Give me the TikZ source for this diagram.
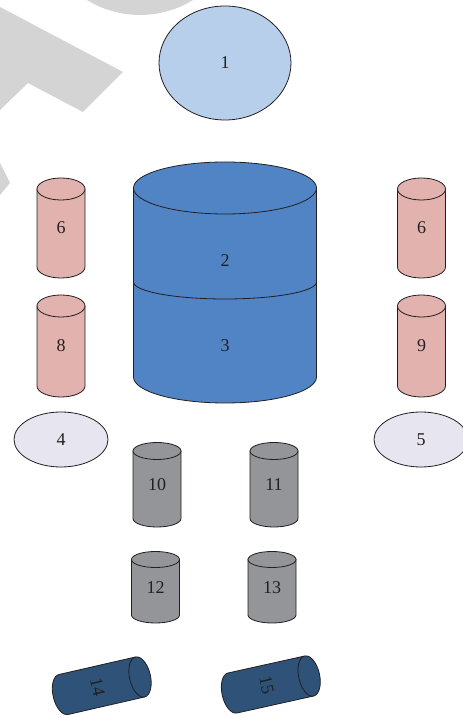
\documentclass[tikz,border=0pt]{standalone}
\usepackage{fontspec}
\setmainfont{Liberation Serif}
\usetikzlibrary{shapes.geometric}
\definecolor{edge}{HTML}{231F20}
\definecolor{wmgrey}{HTML}{D4D4D4}
\definecolor{skyfill}{HTML}{B8CFEB}
\definecolor{drumfill}{HTML}{5084C4}
\definecolor{pinkfill}{HTML}{E2B3AE}
\definecolor{lilacfill}{HTML}{E7E5F0}
\definecolor{greyfill}{HTML}{939598}
\definecolor{navyfill}{HTML}{2F5378}
\tikzset{
  outline/.style={draw=edge, line width=0.8pt},
  lbl/.style={text=edge, inner sep=0pt, font=\fontsize{18}{21}\selectfont},
}
% upright cylinder: name, centre x, top y, bottom y, x radius, y radius, fill, label
\newcommand\upcyl[8]{%
  \filldraw[outline, fill=#7] (#2-#5,#3) -- (#2-#5,#4)
    arc[start angle=180, end angle=360, x radius=#5, y radius=#6] -- (#2+#5,#3) -- cycle;
  \filldraw[outline, fill=#7] (#2,#3) ellipse[x radius=#5, y radius=#6];
  \node[lbl] (#1) at (#2,{(#3+#4)/2}) {#8};
}
% cylinder lying on its side: name, left cap centre, tilt, label
\newcommand\sidecyl[4]{%
  \begin{scope}[shift={#2}, rotate=#3]
    \filldraw[outline, fill=navyfill] (78.5,20.5) -- (0,20.5)
      arc[start angle=90, end angle=270, x radius=10.5, y radius=20.5] -- (78.5,-20.5);
    \filldraw[outline, fill=navyfill] (78.5,0) ellipse[x radius=10.5, y radius=20.5];
    \coordinate (#1-c) at (35,0);
  \end{scope}
  \node[lbl, rotate=#3-90] (#1) at (#1-c) {#4};
}
\begin{document}
\begin{tikzpicture}[x=1pt, y=1pt]
  \useasboundingbox (0,0) rectangle (463,718);
  \fill[white] (0,0) rectangle (463,718);

  % light grey background mark
  \begin{scope}
    \clip (0,0) rectangle (463,718);
    \fill[wmgrey] (140,804) circle[radius=101];
    \fill[wmgrey] (-5,713) -- (0,711) -- (123,646) -- (83,606) -- (28,635) -- (0,608) -- (-5,605) -- cycle;
    \fill[wmgrey] (-5,555) -- (0,555) -- (10,535) -- (0,523) -- (-5,523) -- cycle;
  \end{scope}

  % top ellipse
  \node[outline, fill=skyfill, ellipse, minimum width=132pt, minimum height=114pt, inner sep=0pt] (e1) at (225,655) {};
  \node[lbl] (t1) at (e1) {1};

  % large two-part drum
  \filldraw[outline, fill=drumfill] (133.5,530) -- (133.5,341)
    arc[start angle=180, end angle=360, x radius=91.5, y radius=26] -- (316.5,530) -- cycle;
  \draw[outline] (133.5,436) arc[start angle=180, end angle=360, x radius=91.5, y radius=17];
  \filldraw[outline, fill=drumfill] (225,530) ellipse[x radius=91.5, y radius=26];
  \node[lbl] (t2) at (225,457) {2};
  \node[lbl] (t3) at (225,372) {3};

  % pink cylinders
  \upcyl{c6a}{61}{529}{451}{24}{11}{pinkfill}{6}
  \upcyl{c8}{61}{412}{332}{24}{11}{pinkfill}{8}
  \upcyl{c6b}{421.5}{529}{451}{24}{11}{pinkfill}{6}
  \upcyl{c9}{421.5}{412}{332}{24}{11}{pinkfill}{9}

  % side ellipses
  \node[outline, fill=lilacfill, ellipse, minimum width=94pt, minimum height=55pt, inner sep=0pt] (e4) at (61,278.5) {};
  \node[lbl] (t4) at (e4) {4};
  \node[outline, fill=lilacfill, ellipse, minimum width=94pt, minimum height=55pt, inner sep=0pt] (e5) at (421,278.5) {};
  \node[lbl] (t5) at (e5) {5};

  % grey cylinders
  \upcyl{c10}{157}{267}{199.5}{24}{8.5}{greyfill}{10}
  \upcyl{c11}{274}{267}{199.5}{24}{8.5}{greyfill}{11}
  \upcyl{c12}{155.5}{158.5}{103}{24}{8}{greyfill}{12}
  \upcyl{c13}{272}{158.5}{103}{24}{8}{greyfill}{13}

  % tilted cylinders
  \sidecyl{c14}{(63.5,23.5)}{12.9}{14}
  \sidecyl{c15}{(232.5,25)}{12.5}{15}
\end{tikzpicture}
\end{document}
